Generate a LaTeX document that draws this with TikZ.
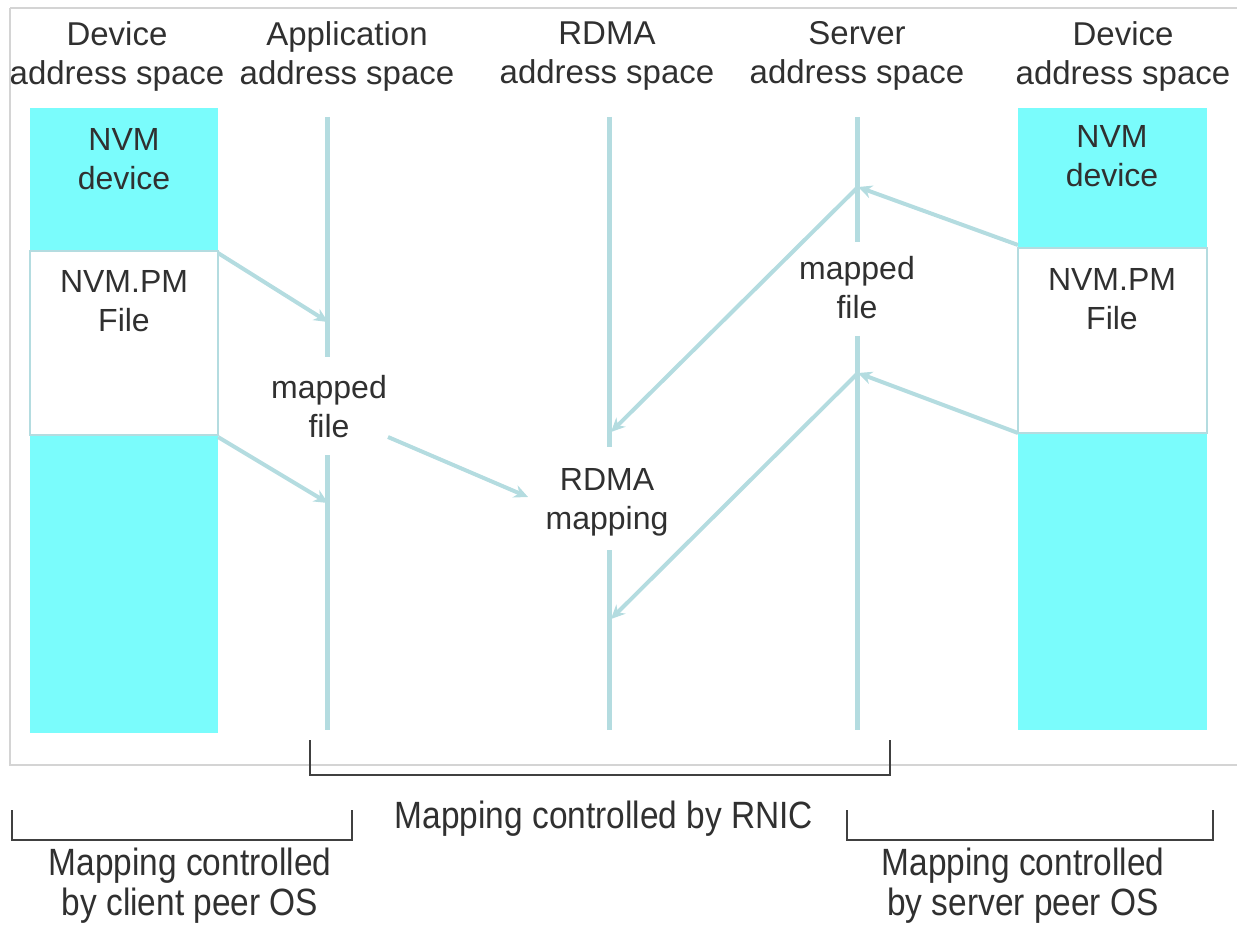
\documentclass[tikz,border=0pt]{standalone}
\usepackage{fontspec}
\setmainfont{Liberation Sans}
\newfontfamily\condfont[FakeStretch=0.88]{Liberation Sans}
\usetikzlibrary{arrows.meta}
\definecolor{cyanfill}{HTML}{7AFCFC}
\definecolor{mapline}{HTML}{B4DCE0}
\definecolor{framegray}{HTML}{D4D4D4}
\definecolor{txt}{HTML}{303030}
\tikzset{
  lbl/.style={align=center,text=txt,font=\fontsize{32}{39}\selectfont,inner sep=0pt},
  hlbl/.style={align=center,text=txt,font=\fontsize{33}{39}\selectfont,inner sep=0pt},
  blbl/.style={align=center,text=txt,font=\condfont\fontsize{38}{40}\selectfont,inner sep=0pt},
  axis/.style={draw=mapline,line width=5pt},
  maparrow/.style={draw=mapline,line width=4pt,-{Stealth[length=14pt,width=13pt]}},
  bracket/.style={draw=black!75,line width=1.2pt},
  dev/.style={fill=cyanfill,draw=none},
  filebox/.style={fill=white,draw=mapline,line width=2.5pt},
}
\begin{document}
\begin{tikzpicture}[x=1pt,y=-1pt]
\useasboundingbox (0,0) rectangle (1237,925);
% frame
\draw[framegray,line width=1.2pt] (10,8) -- (10,765) -- (1240,765);
\draw[framegray,line width=1.2pt] (10,8) -- (1240,8);
% headers
\node[hlbl] (h1) at (117,56) {Device\\address space};
\node[hlbl] (h2) at (347,56) {Application\\address space};
\node[hlbl] (h3) at (607,56) {RDMA\\address space};
\node[hlbl] (h4) at (857,56) {Server\\address space};
\node[hlbl] (h5) at (1123,56) {Device\\address space};
% left device column
\fill[dev] (30,108) rectangle (218,733);
\path[filebox] (30,251) rectangle (218,435);
\node[lbl] (ldev) at (124,159) {NVM\\device};
\node[lbl] (lfile) at (124,301) {NVM.PM\\File};
% right device column
\fill[dev] (1018,108) rectangle (1207,730);
\path[filebox] (1018,248) rectangle (1207,433);
\node[lbl] (rdev) at (1112,156) {NVM\\device};
\node[lbl] (rfile) at (1112,299) {NVM.PM\\File};
% axes
\coordinate (a1) at (327,117); \coordinate (a2) at (327,357);
\coordinate (a3) at (327,455); \coordinate (a4) at (327,730);
\draw[axis] (a1) -- (a2); \draw[axis] (a3) -- (a4);
\coordinate (r1) at (609,117); \coordinate (r2) at (609,447);
\coordinate (r3) at (609,550); \coordinate (r4) at (609,730);
\draw[axis] (r1) -- (r2); \draw[axis] (r3) -- (r4);
\coordinate (s1) at (857,117); \coordinate (s2) at (857,242);
\coordinate (s3) at (857,336); \coordinate (s4) at (857,730);
\draw[axis] (s1) -- (s2); \draw[axis] (s3) -- (s4);
% inner labels
\node[lbl] (mf1) at (329,407) {mapped\\file};
\node[lbl] (mf2) at (857,288) {mapped\\file};
\node[lbl] (rm) at (607,502) {RDMA\\mapping};
% mapping arrows
\coordinate (lf1) at (218,253); \coordinate (ap1) at (328,322);
\coordinate (lf2) at (218,437); \coordinate (ap2) at (328,503);
\draw[maparrow] (lf1) -- (ap1);
\draw[maparrow] (lf2) -- (ap2);
\coordinate (mfo) at (388,437); \coordinate (rmi) at (528,497);
\draw[maparrow] (mfo) -- (rmi);
\coordinate (rf1) at (1018,245); \coordinate (sv1) at (858,187);
\coordinate (rf2) at (1018,433); \coordinate (sv2) at (858,373);
\draw[maparrow] (rf1) -- (sv1);
\draw[maparrow] (rf2) -- (sv2);
\coordinate (rd1) at (611,432); \coordinate (rd2) at (611,619);
\draw[maparrow] (sv1) -- (rd1);
\draw[maparrow] (sv2) -- (rd2);
% brackets
\draw[bracket] (310,740) -- (310,775) -- (890,775) -- (890,740);
\draw[bracket] (12,810) -- (12,840) -- (352,840) -- (352,810);
\draw[bracket] (847,810) -- (847,840) -- (1213,840) -- (1213,810);
\node[blbl] (rnic) at (604,819) {Mapping controlled by RNIC};
\node[blbl] (cli) at (190,886) {Mapping controlled\\by client peer OS};
\node[blbl] (srv) at (1023,886) {Mapping controlled\\by server peer OS};
\end{tikzpicture}
\end{document}
